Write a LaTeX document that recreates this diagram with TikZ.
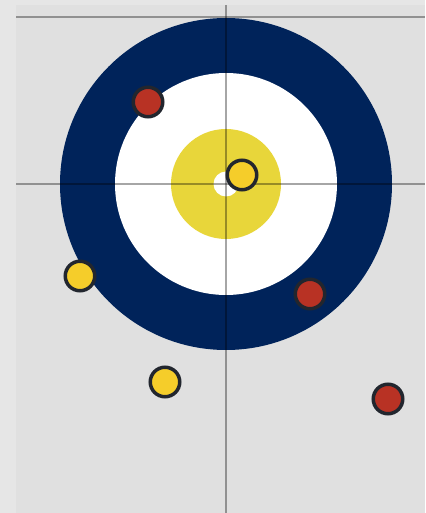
\documentclass[tikz,border=0pt]{standalone}
\usepackage{xcolor}
\usepackage{tikz}
\usetikzlibrary{positioning}
\definecolor{iceGray}{RGB}{224,224,224}
\definecolor{iceEdge}{RGB}{230,230,230}
\definecolor{houseBlue}{RGB}{0,35,90}
\definecolor{buttonYellow}{RGB}{232,214,58}
\definecolor{stoneRed}{RGB}{184,50,36}
\definecolor{stoneYellow}{RGB}{245,205,42}
\definecolor{stoneRim}{RGB}{34,38,46}

\begin{document}
\begin{tikzpicture}[x=0.5mm,y=0.5mm,
    stone/.style={circle, draw=stoneRim, line width=1.75mm, minimum size=14.75mm, inner sep=0pt},
    redstone/.style={stone, fill=stoneRed},
    yellowstone/.style={stone, fill=stoneYellow},
    sheetline/.style={black, opacity=0.35, line width=1mm}]
    % ice
    \fill[iceEdge] (0,0) rectangle (425,513);
    \fill[iceGray] (16,0) rectangle (425,508);
    \useasboundingbox (0,0) rectangle (425,513);

    % house
    \coordinate (tee) at (226,329);
    \fill[houseBlue] (tee) circle (166);
    \fill[white] (tee) circle (111);
    \fill[buttonYellow] (tee) circle (55);
    \fill[white] (tee) circle (12.5);

    % lines
    \coordinate (backL) at (16,496);
    \coordinate (backR) at (425,496);
    \coordinate (teeL) at (16,329);
    \coordinate (teeR) at (425,329);
    \coordinate (centreT) at (226,508);
    \coordinate (centreB) at (226,0);
    \draw[sheetline] (backL) -- (backR);
    \draw[sheetline] (teeL) -- (teeR);
    \draw[sheetline] (centreT) -- (centreB);

    % stones
    \node[redstone] (red1) at (148,411) {};
    \node[yellowstone] (yellow1) at (242,338) {};
    \node[yellowstone] (yellow2) at (80,237) {};
    \node[redstone] (red2) at (310,219) {};
    \node[yellowstone] (yellow3) at (165,131) {};
    \node[redstone] (red3) at (388,114) {};
\end{tikzpicture}
\end{document}
